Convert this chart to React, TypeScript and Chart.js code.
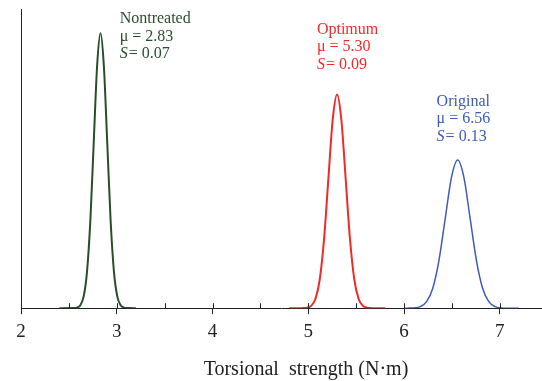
import React, { useEffect, useRef } from "react";
import { Chart, registerables } from "chart.js";

Chart.register(...registerables);

// Data (probability density vs torsional strength)
const nontreatedX = [2.40, 2.55, 2.585, 2.62, 2.655, 2.69, 2.725, 2.76, 2.795, 2.83, 2.865, 2.90, 2.935, 2.97, 3.005, 3.04, 3.075, 3.11, 3.20];
const nontreatedY = [0, 0.002, 0.013, 0.063, 0.25, 0.77, 1.85, 3.46, 5.03, 5.70, 5.03, 3.46, 1.85, 0.77, 0.25, 0.063, 0.013, 0.002, 0];

const optimumX = [4.80, 4.94, 4.985, 5.03, 5.075, 5.12, 5.165, 5.21, 5.255, 5.30, 5.345, 5.39, 5.435, 5.48, 5.525, 5.57, 5.615, 5.66, 5.80];
const optimumY = [0, 0.0015, 0.0098, 0.049, 0.195, 0.60, 1.44, 2.69, 3.91, 4.43, 3.91, 2.69, 1.44, 0.60, 0.195, 0.049, 0.0098, 0.0015, 0];

const originalX = [6.00, 6.04, 6.105, 6.17, 6.235, 6.30, 6.365, 6.43, 6.495, 6.56, 6.625, 6.69, 6.755, 6.82, 6.885, 6.95, 7.015, 7.08, 7.20];
const originalY = [0, 0.001, 0.0068, 0.034, 0.135, 0.415, 0.997, 1.86, 2.71, 3.07, 2.71, 1.86, 0.997, 0.415, 0.135, 0.034, 0.0068, 0.001, 0];

const seriesNames = ["Nontreated", "Optimum", "Original"];
const muLabels = ["2.83", "5.30", "6.56"];
const sLabels = ["0.07", "0.09", "0.13"];
const majorTicks = [2, 3, 4, 5, 6, 7];
const minorTicks = [2.5, 3, 3.5, 4, 4.5, 5, 5.5, 6, 6.5, 7];
const xAxisTitle = "Torsional  strength (N\u00b7m)";

const COLORS = ["#294d2b", "#f02a2a", "#3f5bb5"];
const WIDTHS = [2, 2, 1.5];
// annotation anchors in data coordinates (left edge, first baseline)
const ANNO = [
  { x: 3.03, y: 5.9 },
  { x: 5.09, y: 5.69 },
  { x: 6.34, y: 4.2 },
];

const SERIF = "'Liberation Serif', 'DejaVu Serif', serif";

function pts(xs: number[], ys: number[]) {
  return xs.map((x, i) => ({ x, y: ys[i] }));
}

const extras = {
  id: "extras",
  afterDraw(chart: any) {
    const ctx = chart.ctx;
    const xs = chart.scales.x;
    const ys = chart.scales.y;
    const y0 = ys.getPixelForValue(0);
    ctx.save();
    // upward minor/major ticks
    ctx.strokeStyle = "#222";
    ctx.lineWidth = 1;
    ctx.beginPath();
    for (const v of minorTicks) {
      const px = Math.round(xs.getPixelForValue(v)) + 0.5;
      ctx.moveTo(px, y0);
      ctx.lineTo(px, y0 - 5);
    }
    ctx.stroke();
    // axis title
    const ca = chart.chartArea;
    ctx.fillStyle = "#222";
    ctx.font = `20px ${SERIF}`;
    ctx.textAlign = "center";
    ctx.textBaseline = "alphabetic";
    ctx.fillText(xAxisTitle, ca.left + (ca.right - ca.left) * 0.548, chart.height - 6);
    // annotations
    ctx.textAlign = "left";
    ANNO.forEach((a, i) => {
      const px = xs.getPixelForValue(a.x);
      const py = ys.getPixelForValue(a.y);
      ctx.fillStyle = COLORS[i];
      ctx.font = `16px ${SERIF}`;
      ctx.fillText(seriesNames[i], px, py);
      ctx.fillText("\u03bc = " + muLabels[i], px, py + 17.5);
      ctx.font = `italic 16px ${SERIF}`;
      ctx.fillText("S", px, py + 35);
      const w = ctx.measureText("S").width;
      ctx.font = `16px ${SERIF}`;
      ctx.fillText("= " + sLabels[i], px + w + 1, py + 35);
    });
    ctx.restore();
  },
};

export default function App() {
  const ref = useRef<HTMLCanvasElement>(null);
  useEffect(() => {
    if (!ref.current) return;
    const chart = new Chart(ref.current, {
      type: "scatter",
      data: {
        datasets: [
          { data: pts(nontreatedX, nontreatedY) },
          { data: pts(optimumX, optimumY) },
          { data: pts(originalX, originalY) },
        ].map((d, i) => ({
          ...d,
          label: seriesNames[i],
          showLine: true,
          borderColor: COLORS[i],
          borderWidth: WIDTHS[i],
          pointRadius: 0,
          cubicInterpolationMode: "monotone" as const,
          fill: false,
        })),
      },
      options: {
        animation: false,
        responsive: false,
        maintainAspectRatio: false,
        layout: { padding: { left: 0, right: 1, top: 9, bottom: 32 } },
        plugins: { legend: { display: false }, tooltip: { enabled: false } },
        scales: {
          x: {
            type: "linear",
            min: 2,
            max: 7.43,
            afterBuildTicks: (s: any) => {
              s.ticks = majorTicks.map((v) => ({ value: v }));
            },
            ticks: {
              color: "#222",
              font: { family: SERIF, size: 19 },
              padding: 6,
              maxRotation: 0,
            },
            grid: {
              drawOnChartArea: false,
              drawTicks: true,
              tickLength: 6,
              color: "#222",
            },
            border: { display: true, color: "#222", width: 1 },
            title: { display: false },
          },
          y: {
            type: "linear",
            min: 0,
            max: 6.2,
            ticks: { display: false },
            grid: { display: false, drawTicks: false },
            border: { display: true, color: "#222", width: 1 },
            afterFit: (s: any) => {
              s.width = 21;
            },
          },
        },
      },
      plugins: [extras],
    });
    return () => chart.destroy();
  }, []);
  return (
    <div style={{ position: "fixed", left: 0, top: 0, width: 542, height: 381, background: "#fff" }}>
      <canvas ref={ref} width={542} height={381} style={{ width: 542, height: 381 }} />
    </div>
  );
}
